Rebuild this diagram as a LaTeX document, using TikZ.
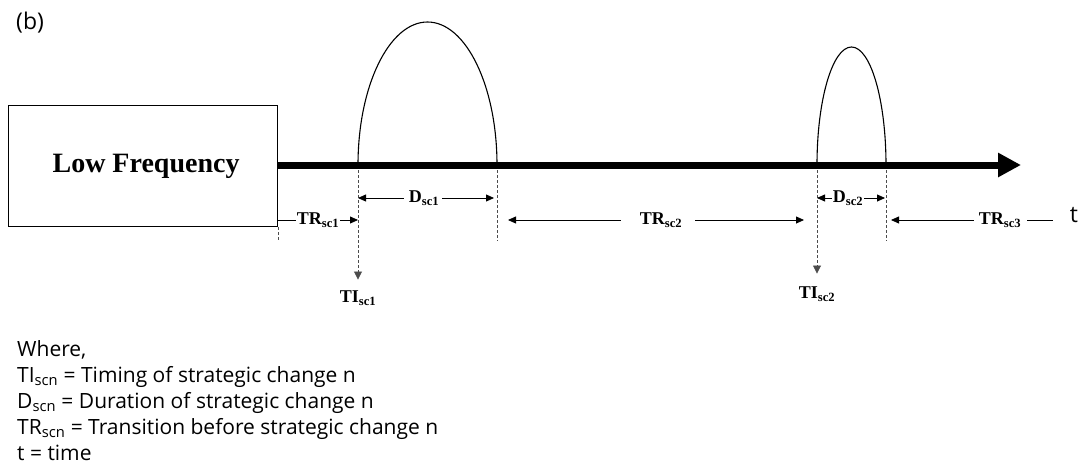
\documentclass[tikz,border=0pt]{standalone}
\usepackage{fontspec}
\setmainfont{Liberation Serif}
\newfontfamily\legendfont{Open Sans}
\usepackage{tikz}
\usetikzlibrary{arrows.meta,positioning}

\begin{document}
\begin{tikzpicture}[x=1pt, y=1pt,
  lbl/.style={font=\bfseries\fontsize{18}{20}\selectfont, inner sep=1pt},
  dim/.style={-{Triangle[width=7pt,length=8pt]}, line width=0.8pt},
  guide/.style={dash pattern=on 3pt off 2pt, line width=0.8pt, black!70},
  legend/.style={font=\legendfont\fontsize{21}{24}\selectfont, anchor=base west, inner sep=0pt}]
  \useasboundingbox (0,0) rectangle (1088,-471);
  \def\yaxis{-165}

  \node[font=\legendfont\fontsize{23}{25}\selectfont, anchor=base west, inner sep=0pt] (tag) at (16,-30) {(b)};

  % low frequency block
  \node[draw, line width=1.1pt, minimum width=269pt, minimum height=121pt, anchor=north west,
        font=\bfseries\fontsize{28}{30}\selectfont] (lowbox) at (8,-105) {\hspace{6pt}Low Frequency};

  % points on the time axis
  \coordinate (t0) at (277,\yaxis);
  \coordinate (tend) at (1021,\yaxis);
  \foreach \n/\xv in {s1/358, e1/497, s2/817, e2/886}
    \coordinate (\n) at (\xv,\yaxis);

  % strategic changes
  \draw[line width=1.1pt] (s1) arc[start angle=180, end angle=0, x radius=69.5pt, y radius=143pt];
  \draw[line width=1.1pt] (s2) arc[start angle=180, end angle=0, x radius=34.5pt, y radius=118pt];

  % timing labels
  \node[lbl] (ti1) at (358,-298) {TI\textsubscript{sc1}};
  \node[lbl] (ti2) at (817,-294) {TI\textsubscript{sc2}};

  \draw[guide] (lowbox.south east) -- ++(0,-14);
  \draw[guide] (e1) -- ++(0,-76);
  \draw[guide] (e2) -- ++(0,-76);
  \draw[guide, -{Triangle[width=8pt,length=8pt]}] (s1) -- ([yshift=10pt]ti1.north);
  \draw[guide, -{Triangle[width=8pt,length=8pt]}] (s2) -- ([yshift=12pt]ti2.north);

  % time axis
  \draw[line width=7pt, -{Triangle[width=23pt,length=23pt]}] (t0) -- (tend);

  % durations
  \node[lbl] (d1) at (424,-198) {D\textsubscript{sc1}};
  \node[lbl] (d2) at (848,-198) {D\textsubscript{sc2}};
  \draw[dim] ([xshift=-4pt]d1.west) -- (s1 |- d1.west);
  \draw[dim] ([xshift=2pt]d1.east) -- ([xshift=-3pt]e1 |- d1.east);
  \draw[dim] (d2.west) -- (s2 |- d2.west);
  \draw[dim] (d2.east) -- ([xshift=-1pt]e2 |- d2.east);

  % transitions
  \node[lbl] (tr1) at (318,-220) {TR\textsubscript{sc1}};
  \node[lbl] (tr2) at (661,-220) {TR\textsubscript{sc2}};
  \node[lbl] (tr3) at (1000,-220) {TR\textsubscript{sc3}};
  \node[font=\legendfont\fontsize{23}{24}\selectfont, inner sep=0pt] (tlbl) at (1074,-215) {t};
  \coordinate (tr2l) at (508,-220);
  \coordinate (tr2r) at (804,-220);
  \coordinate (tr3l) at (891,-220);
  \coordinate (tr3r) at (1053,-220);

  \draw[line width=0.8pt] (t0 |- tr1.west) -- (tr1.west);
  \draw[dim] (tr1.east) -- (s1 |- tr1.east);
  \draw[dim] ([xshift=-18pt]tr2.west) -- (tr2l);
  \draw[dim] ([xshift=12pt]tr2.east) -- (tr2r);
  \draw[dim] ([xshift=-4pt]tr3.west) -- (tr3l);
  \draw[line width=0.8pt] ([xshift=5pt]tr3.east) -- (tr3r);

  % legend
  \node[legend] (where) at (17,-356) {Where,};
  \node[legend] (leg1) at (17,-382) {TI\textsubscript{scn} = Timing of strategic change n};
  \node[legend] (leg2) at (17,-408) {D\textsubscript{scn} = Duration of strategic change n};
  \node[legend] (leg3) at (17,-434) {TR\textsubscript{scn} = Transition before strategic change n};
  \node[legend] (leg4) at (17,-460) {t = time};
\end{tikzpicture}
\end{document}
